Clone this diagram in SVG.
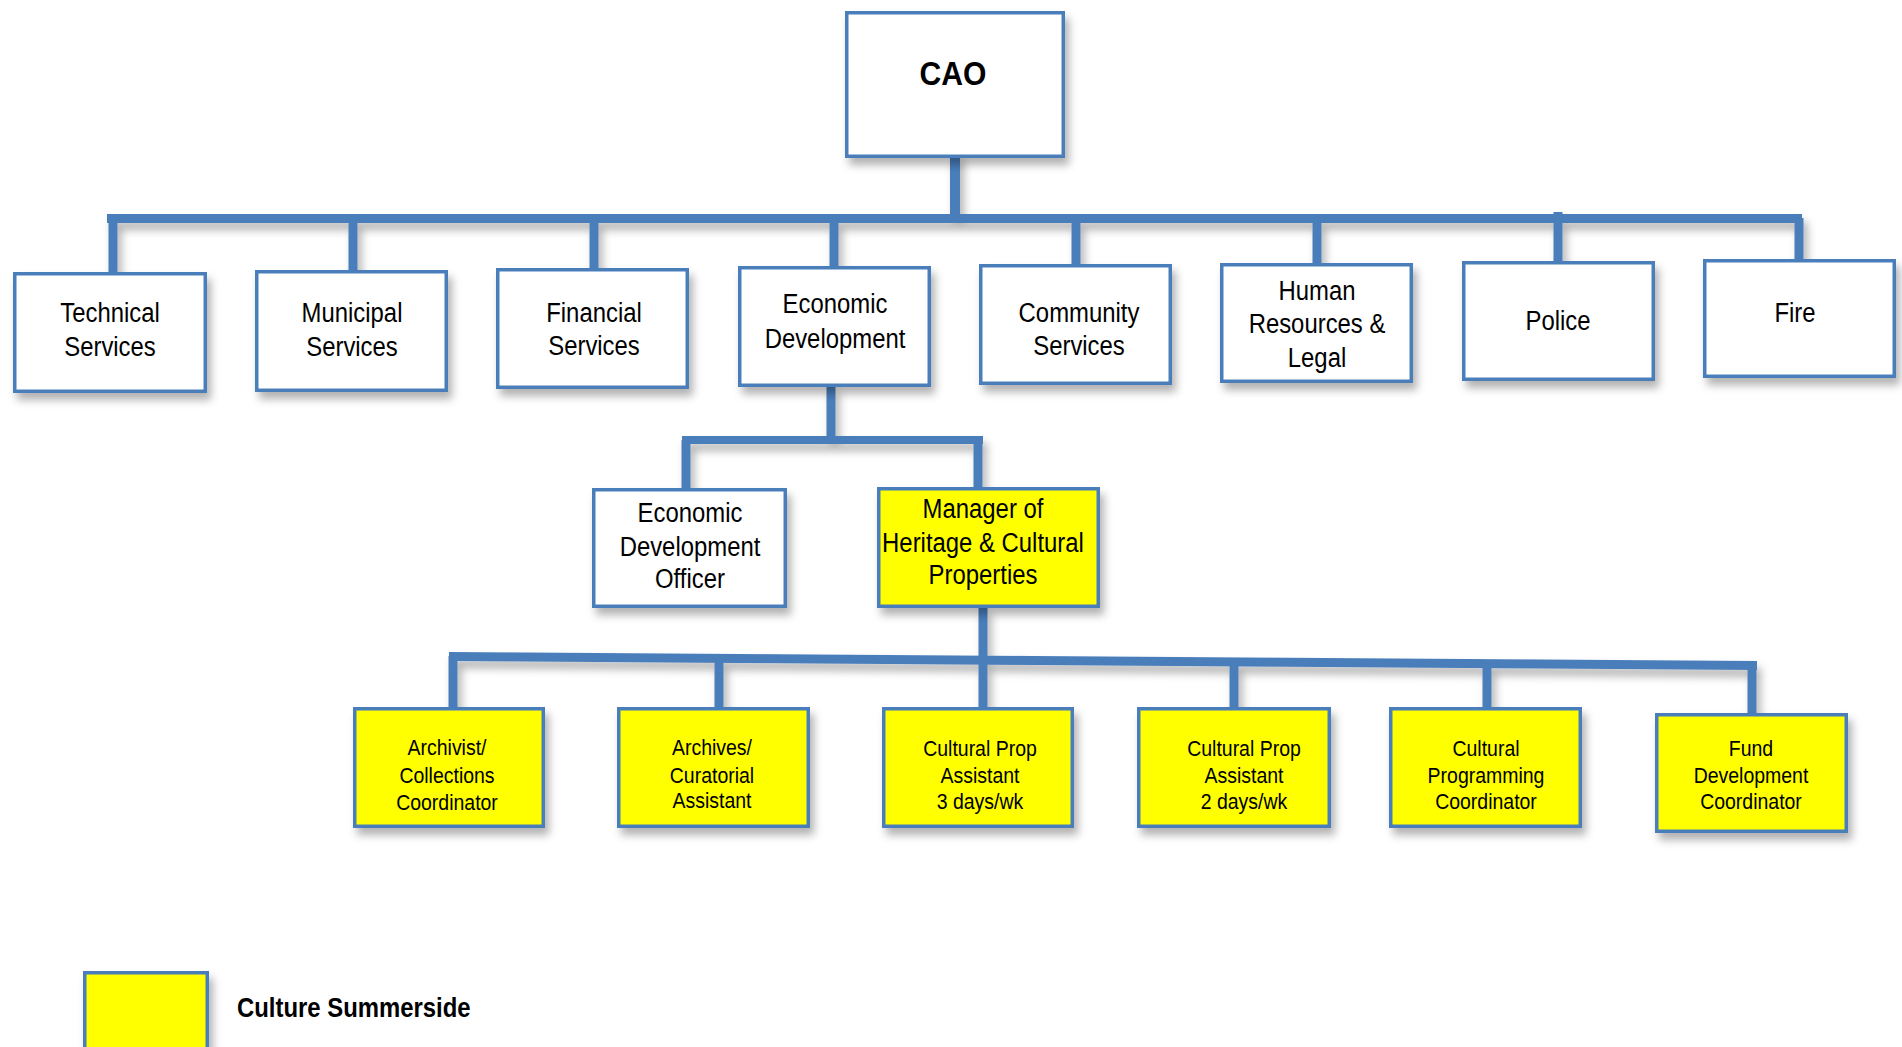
<svg xmlns="http://www.w3.org/2000/svg" width="1902" height="1047" viewBox="0 0 1902 1047">
<defs>
<filter id="sh" x="-20%" y="-20%" width="150%" height="160%">
<feDropShadow dx="4" dy="7" stdDeviation="4" flood-color="#000" flood-opacity="0.3"/>
</filter>
<style>
.box{fill:#fff;stroke:#4a7ebb;stroke-width:3.5;filter:url(#sh)}
.yb{fill:#ffff00;stroke:#4a7ebb;stroke-width:3.5;filter:url(#sh)}
.c{fill:#4a7ebb}
.t{font-family:"Liberation Sans",Arial,sans-serif;font-size:27px;fill:#000;text-anchor:middle}
.s{font-family:"Liberation Sans",Arial,sans-serif;font-size:22px;fill:#000;text-anchor:middle}
.b{font-family:"Liberation Sans",Arial,sans-serif;font-weight:bold;fill:#000}
</style>
</defs>
<rect width="1902" height="1047" fill="#fff"/>
<g id="connectors" filter="url(#sh)">
<rect class="c" x="950" y="153" width="10" height="66"/>
<rect class="c" x="107" y="214" width="1695" height="9"/>
<rect class="c" x="108.5" y="218" width="9" height="55"/>
<rect class="c" x="348.5" y="218" width="9" height="53"/>
<rect class="c" x="589.5" y="218" width="9" height="51"/>
<rect class="c" x="829.5" y="218" width="9" height="49"/>
<rect class="c" x="1071.5" y="218" width="9" height="47"/>
<rect class="c" x="1312.5" y="218" width="9" height="46"/>
<rect class="c" x="1553.5" y="212" width="9" height="50"/>
<rect class="c" x="1794.5" y="218" width="9" height="42"/>
<rect class="c" x="826.5" y="386" width="9" height="54"/>
<rect class="c" x="682" y="436" width="301" height="8"/>
<rect class="c" x="681.5" y="440" width="9" height="49"/>
<rect class="c" x="973.5" y="440" width="9" height="48"/>
<rect class="c" x="978.5" y="607" width="9" height="101"/>
<polygon class="c" points="449,652 1757,661 1757,670 449,661"/>
<rect class="c" x="448.5" y="656" width="9" height="52"/>
<rect class="c" x="714.5" y="658" width="9" height="50"/>
<rect class="c" x="1229.5" y="661" width="9" height="47"/>
<rect class="c" x="1482.5" y="662" width="9" height="59"/>
<rect class="c" x="1747.5" y="664" width="9" height="57"/>
</g>
<g id="cao">
<rect class="box" x="846.75" y="12.75" width="216.5" height="143.5"/>
<g transform="translate(953 0) scale(0.885 1)"><text class="b" x="0" y="85" font-size="34" text-anchor="middle">CAO</text></g>
</g>
<g id="technical">
<rect class="box" x="14.75" y="273.75" width="190.5" height="117.5"/>
<g transform="translate(110 0) scale(0.885 1)"><text class="t"><tspan x="0" y="322">Technical</tspan><tspan x="0" y="356">Services</tspan></text></g>
</g>
<g id="municipal">
<rect class="box" x="256.75" y="271.75" width="189.5" height="118.5"/>
<g transform="translate(352 0) scale(0.885 1)"><text class="t"><tspan x="0" y="322">Municipal</tspan><tspan x="0" y="356">Services</tspan></text></g>
</g>
<g id="financial">
<rect class="box" x="497.75" y="269.75" width="189.5" height="117.5"/>
<g transform="translate(594 0) scale(0.885 1)"><text class="t"><tspan x="0" y="322">Financial</tspan><tspan x="0" y="355">Services</tspan></text></g>
</g>
<g id="economic">
<rect class="box" x="739.75" y="267.75" width="189.5" height="117.5"/>
<g transform="translate(835 0) scale(0.885 1)"><text class="t"><tspan x="0" y="313">Economic</tspan><tspan x="0" y="348">Development</tspan></text></g>
</g>
<g id="community">
<rect class="box" x="980.75" y="265.75" width="189.5" height="117.5"/>
<g transform="translate(1079 0) scale(0.885 1)"><text class="t"><tspan x="0" y="322">Community</tspan><tspan x="0" y="355">Services</tspan></text></g>
</g>
<g id="hr">
<rect class="box" x="1221.75" y="264.75" width="189.5" height="116.5"/>
<g transform="translate(1317 0) scale(0.885 1)"><text class="t"><tspan x="0" y="300">Human</tspan><tspan x="0" y="333">Resources &amp;</tspan><tspan x="0" y="367">Legal</tspan></text></g>
</g>
<g id="police">
<rect class="box" x="1463.75" y="262.75" width="189.5" height="116.5"/>
<g transform="translate(1558 0) scale(0.885 1)"><text class="t" x="0" y="330">Police</text></g>
</g>
<g id="fire">
<rect class="box" x="1704.75" y="260.75" width="189.5" height="115.5"/>
<g transform="translate(1795 0) scale(0.885 1)"><text class="t" x="0" y="322">Fire</text></g>
</g>
<g id="edo">
<rect class="box" x="593.75" y="489.75" width="191.5" height="116.5"/>
<g transform="translate(690 0) scale(0.885 1)"><text class="t"><tspan x="0" y="522">Economic</tspan><tspan x="0" y="556">Development</tspan><tspan x="0" y="588">Officer</tspan></text></g>
</g>
<g id="manager">
<rect class="yb" x="878.75" y="488.75" width="219.5" height="117.5"/>
<g transform="translate(983 0) scale(0.885 1)"><text class="t"><tspan x="0" y="518">Manager of</tspan><tspan x="0" y="552">Heritage &amp; Cultural</tspan><tspan x="0" y="584">Properties</tspan></text></g>
</g>
<g id="archivist">
<rect class="yb" x="354.75" y="708.75" width="188.5" height="117.5"/>
<g transform="translate(447 0) scale(0.885 1)"><text class="s"><tspan x="0" y="755">Archivist/</tspan><tspan x="0" y="783">Collections</tspan><tspan x="0" y="810">Coordinator</tspan></text></g>
</g>
<g id="archives">
<rect class="yb" x="618.75" y="708.75" width="189.5" height="117.5"/>
<g transform="translate(712 0) scale(0.885 1)"><text class="s"><tspan x="0" y="755">Archives/</tspan><tspan x="0" y="783">Curatorial</tspan><tspan x="0" y="808">Assistant</tspan></text></g>
</g>
<g id="cp3">
<rect class="yb" x="883.75" y="708.75" width="188.5" height="117.5"/>
<g transform="translate(980 0) scale(0.885 1)"><text class="s"><tspan x="0" y="756">Cultural Prop</tspan><tspan x="0" y="783">Assistant</tspan><tspan x="0" y="809">3 days/wk</tspan></text></g>
</g>
<g id="cp2">
<rect class="yb" x="1138.75" y="708.75" width="190.5" height="117.5"/>
<g transform="translate(1244 0) scale(0.885 1)"><text class="s"><tspan x="0" y="756">Cultural Prop</tspan><tspan x="0" y="783">Assistant</tspan><tspan x="0" y="809">2 days/wk</tspan></text></g>
</g>
<g id="programming">
<rect class="yb" x="1390.75" y="708.75" width="189.5" height="117.5"/>
<g transform="translate(1486 0) scale(0.885 1)"><text class="s"><tspan x="0" y="756">Cultural</tspan><tspan x="0" y="783">Programming</tspan><tspan x="0" y="809">Coordinator</tspan></text></g>
</g>
<g id="fund">
<rect class="yb" x="1656.75" y="714.75" width="189.5" height="116.5"/>
<g transform="translate(1751 0) scale(0.885 1)"><text class="s"><tspan x="0" y="756">Fund</tspan><tspan x="0" y="783">Development</tspan><tspan x="0" y="809">Coordinator</tspan></text></g>
</g>
<g id="legend">
<rect class="yb" x="84.75" y="972.75" width="122.5" height="100"/>
<g transform="translate(237 0) scale(0.885 1)"><text class="b" x="0" y="1017" font-size="27">Culture Summerside</text></g>
</g>
</svg>
